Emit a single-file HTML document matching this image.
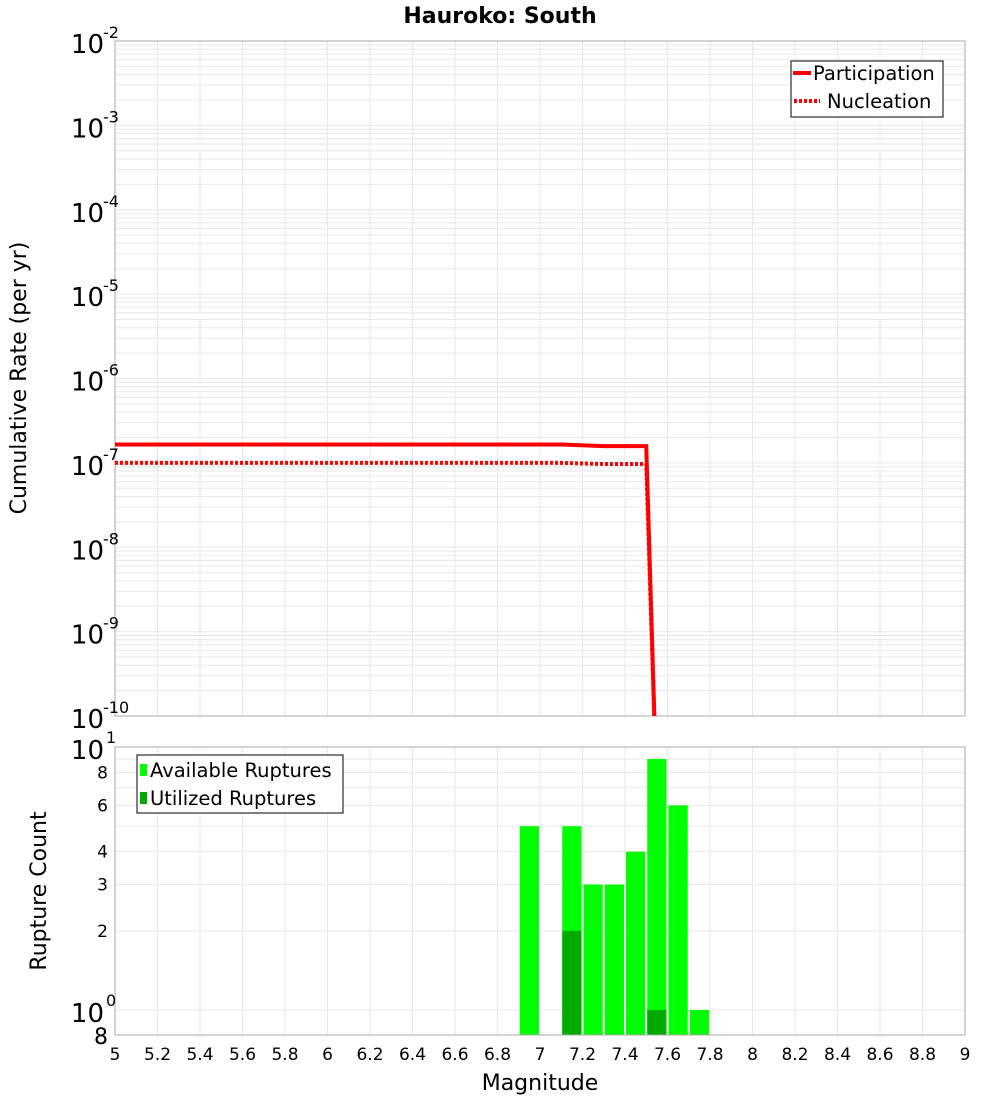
<!DOCTYPE html>
<html><head><meta charset="utf-8"><style>
body{margin:0;background:#fff;}
svg{display:block;font-family:"DejaVu Sans","Liberation Sans",sans-serif;}
</style></head><body>
<svg id="c" width="1000" height="1100" viewBox="0 0 1000 1100" xmlns="http://www.w3.org/2000/svg">
<text x="500" y="23" text-anchor="middle" font-size="22" font-weight="bold">Hauroko: South</text>
<g id="topg"></g>
<g id="botg"></g>
<text transform="translate(26,378) rotate(-90)" text-anchor="middle" font-size="22">Cumulative Rate (per yr)</text>
<text transform="translate(46,891) rotate(-90)" text-anchor="middle" font-size="22">Rupture Count</text>
<text x="540" y="1090" text-anchor="middle" font-size="22">Magnitude</text>
<g id="legends"></g>
</svg>
<script>
const partMag=[5.0,7.1,7.3,7.5,7.55];
const partRate=[1.65e-7,1.65e-7,1.58e-7,1.58e-7,1e-11];
const nuclMag=[5.0,7.1,7.3,7.5,7.55];
const nuclRate=[1.0e-7,1.0e-7,0.97e-7,0.97e-7,1e-11];
const binMag=[6.95,7.15,7.25,7.35,7.45,7.55,7.65,7.75];
const available=[5,5,3,3,4,9,6,1];
const utilized=[0,2,0,0,0,1,0,0];
const xTicks=[5,5.2,5.4,5.6,5.8,6,6.2,6.4,6.6,6.8,7,7.2,7.4,7.6,7.8,8,8.2,8.4,8.6,8.8,9];

const NS="http://www.w3.org/2000/svg";
const L=115,R=965;
const x=m=>L+(m-5)/4*(R-L);
const T0=41,T1=716;
const yT=v=>T0+(-2-Math.log10(v))/8*(T1-T0);
const B0=747,B1=1035;
const yB=v=>B0+(1-Math.log10(v))*263;
function mk(p,tag,at){const e=document.createElementNS(NS,tag);for(const k in at)e.setAttribute(k,at[k]);p.appendChild(e);return e;}
const topG=document.getElementById('topg'),botG=document.getElementById('botg');
const svgEl=document.getElementById('c');
const defs=mk(svgEl,'defs',{});
const cp=mk(defs,'clipPath',{id:'cpt'});mk(cp,'rect',{x:L,y:T0,width:R-L,height:T1-T0});
for(let d=-10;d<-2;d++)for(let k=1;k<10;k++){const v=k*Math.pow(10,d);const yy=yT(v);
 const g=mk(topG,'line',{x1:L,x2:R,y1:yy,y2:yy,stroke:'#e8e8e8','stroke-width':1});
 
 }
for(const t of xTicks){const g=mk(topG,'line',{x1:x(t),x2:x(t),y1:T0,y2:T1,stroke:'#e8e8e8'});
 
 }
mk(topG,'rect',{x:L,y:T0,width:R-L,height:T1-T0,fill:'none',stroke:'#aaa'});
for(let d=-10;d<=-2;d++){const yy=yT(Math.pow(10,d));
 const t=mk(topG,'text',{x:104,y:yy+12,'font-size':26,'text-anchor':'end'});t.textContent='10';
 
 
 const s=mk(topG,'text',{x:103,y:yy-3,'font-size':16});s.textContent=String(d);
 
 }
function line(ms,vs,dash,name){const pts=ms.map((m,i)=>x(m)+','+yT(vs[i])).join(' ');
 const a={points:pts,fill:'none',stroke:'#f00','stroke-width':4,'clip-path':'url(#cpt)'};if(dash)a['stroke-dasharray']='3,2';
 const p=mk(topG,'polyline',a);
 
 }
line(nuclMag,nuclRate,true,'nucleation-line');
line(partMag,partRate,false,'participation-line');
for(let k=1;k<=10;k++){const yy=yB(k);const g=mk(botG,'line',{x1:L,x2:R,y1:yy,y2:yy,stroke:'#e8e8e8'});
 
 }
for(const t of xTicks){const g=mk(botG,'line',{x1:x(t),x2:x(t),y1:B0,y2:B1,stroke:'#e8e8e8'});
 
 }
const bw=x(5.1)-x(5);
binMag.forEach((m,i)=>{
 const r=mk(botG,'rect',{x:x(m)-bw/2+1,y:yB(available[i]),width:bw-2,height:B1-yB(available[i]),fill:'#0f0'});
 
 
 if(utilized[i]>0){const u=mk(botG,'rect',{x:x(m)-bw/2+1,y:yB(utilized[i]),width:bw-2,height:B1-yB(utilized[i]),fill:'#0a0'});
 
 }
});
mk(botG,'rect',{x:L,y:B0,width:R-L,height:B1-B0,fill:'none',stroke:'#aaa'});
const yl=[[2,'2'],[3,'3'],[4,'4'],[6,'6'],[8,'8']];
for(const [v,s] of yl){const t=mk(botG,'text',{x:108,y:yB(v)+6,'font-size':17,'text-anchor':'end'});t.textContent=s;
 
 }
for(const [v,e] of [[10,'1'],[1,'0']]){const t=mk(botG,'text',{x:104,y:yB(v)+12,'font-size':26,'text-anchor':'end'});t.textContent='10';
 
 
 const s=mk(botG,'text',{x:106,y:yB(v)-4,'font-size':16});s.textContent=e;
 
 }
{const t=mk(botG,'text',{x:108,y:B1+9,'font-size':22,'text-anchor':'end'});t.textContent='8';
 
 }
for(const t of xTicks){const e=mk(botG,'text',{x:x(t),y:1060,'font-size':17,'text-anchor':'middle'});e.textContent=String(t);
 
 }
</script>
<script>
(function(){
const NS2="http://www.w3.org/2000/svg";
const lg=document.getElementById('legends');
lg.innerHTML='<g><rect x="791" y="61" width="152" height="56" fill="#fff" stroke="#000"/><line x1="793" y1="73" x2="811" y2="73" stroke="#f00" stroke-width="4"/><text x="813" y="80" font-size="19.5">Participation</text><line x1="794" y1="101" x2="820" y2="101" stroke="#f00" stroke-width="4" stroke-dasharray="3,2"/><text x="827" y="108" font-size="19.5">Nucleation</text></g><g><rect x="137" y="755" width="206" height="58" fill="#fff" stroke="#000"/><rect x="140" y="764" width="7" height="12" fill="#0f0"/><text x="150" y="777" font-size="19.5">Available Ruptures</text><rect x="140" y="792" width="7" height="12" fill="#0a0"/><text x="150" y="805" font-size="19.5">Utilized Ruptures</text></g>';
})();
</script>
</body></html>
